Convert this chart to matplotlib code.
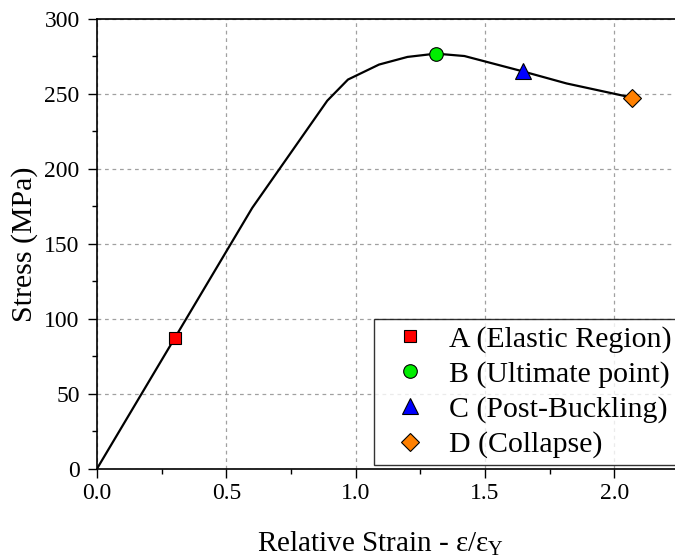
import numpy as np
import matplotlib
matplotlib.use("Agg")
import matplotlib.pyplot as plt

plt.rcParams['font.family'] = ['Liberation Serif', 'DejaVu Serif']
plt.rcParams['mathtext.fontset'] = 'custom'
plt.rcParams['mathtext.rm'] = 'Liberation Serif'
plt.rcParams['mathtext.it'] = 'Liberation Serif'

# stress-strain curve
strain = [0.0, 0.30, 0.60, 0.89, 0.97, 1.09, 1.20, 1.31, 1.42, 1.645, 1.815, 2.067]
stress = [0.0, 87.0, 174.0, 245.5, 259.6, 269.6, 274.7, 276.9, 275.3, 265.1, 257.0, 247.6]

# key points on the curve
pt_labels = ["A (Elastic Region)", "B (Ultimate point)", "C (Post-Buckling)", "D (Collapse)"]
pt_strain = [0.30, 1.31, 1.645, 2.067]
pt_stress = [87.0, 276.9, 265.1, 247.6]
pt_colors = ["#ff0000", "#00ee00", "#0000ff", "#ff8000"]
pt_markers = ["s", "o", "^", "D"]
pt_sizes = [8.5, 9.8, 11.5, 8.8]

fig = plt.figure(figsize=(6.75, 5.58), dpi=100)
ax = fig.add_axes([97/675, 89.3/558, 578/675, 449.7/558])

ax.plot(strain, stress, color="black", lw=1.6, zorder=3)
for lab, x, y, c, m, s in zip(pt_labels, pt_strain, pt_stress, pt_colors, pt_markers, pt_sizes):
    ax.plot(x, y, linestyle="none", marker=m, markersize=s, markerfacecolor=c,
            markeredgecolor="black", markeredgewidth=0.8, label=lab, zorder=4)

ax.set_xlim(0, 2.234)
ax.set_ylim(0, 300)
ax.set_xticks(np.arange(0, 2.01, 0.5))
ax.set_xticks(np.arange(0.25, 2.234, 0.5), minor=True)
ax.set_yticks(np.arange(0, 301, 50))
ax.set_yticks(np.arange(25, 300, 50), minor=True)
ax.xaxis.set_major_formatter(matplotlib.ticker.FormatStrFormatter("%.1f"))

ax.tick_params(which="major", direction="out", length=6.5, width=1.0, labelsize=17)
ax.tick_params(axis="x", which="major", pad=4)
ax.tick_params(axis="y", which="major", pad=6)
ax.tick_params(which="minor", direction="out", length=3.5, width=1.0)
for s in ["left", "bottom", "top"]:
    ax.spines[s].set_linewidth(1.2)
ax.spines["right"].set_visible(False)

ax.grid(True, which="major", color="#a0a0a0", linestyle=(0, (3, 3)), linewidth=0.9)
ax.set_axisbelow(True)

ax.set_xlabel(r"Relative Strain - ε/ε$_\mathregular{Y}$", fontsize=21)
ax.set_ylabel("Stress (MPa)", fontsize=21.5)
ax.xaxis.set_label_coords(0.49, -0.136)
ax.yaxis.set_label_coords(-0.102, 0.5)

leg = ax.legend(loc="lower left", bbox_to_anchor=(374/675, 93/558), bbox_transform=fig.transFigure,
                fontsize=21.5, frameon=True, fancybox=False, borderaxespad=0,
                handlelength=2.0, handletextpad=0.3, labelspacing=0.27, borderpad=0.22)
leg.get_frame().set_edgecolor("black")
leg.get_frame().set_linewidth(1.0)

fig.savefig("out.png", dpi=100)
